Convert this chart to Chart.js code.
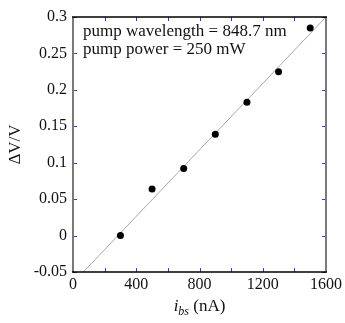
<!DOCTYPE html>
<html>
<head>
<meta charset="utf-8">
<script src="https://cdn.jsdelivr.net/npm/chart.js@4/dist/chart.umd.min.js"></script>
<style>
  html, body { margin: 0; padding: 0; background: #fff; }
  #wrap { width: 345px; height: 323px; }
</style>
</head>
<body>
<div id="wrap"><canvas id="chart"></canvas></div>
<script>
// measured points
const biasCurrent = [300, 500, 700, 900, 1100, 1300, 1500];   // nA
const deltaVoverV = [0.0, 0.064, 0.092, 0.139, 0.183, 0.225, 0.285];

// straight fit line at its two ends
const fitX = [65, 1600];
const fitY = [-0.05, 0.3];

const xTicks = [0, 400, 800, 1200, 1600];
const xMinorTicks = [200, 600, 1000, 1400];
const yTicks = [-0.05, 0, 0.05, 0.1, 0.15, 0.2, 0.25, 0.3];
const yTickLabels = ['-0.05', '0', '0.05', '0.1', '0.15', '0.2', '0.25', '0.3'];

const noteLines = ['pump wavelength = 848.7 nm', 'pump power = 250 mW'];

const SERIF = '"Liberation Serif", "DejaVu Serif", serif';
const TICK_BLUE = '#3a3acc';

// frame, inward ticks and the texts the library can't lay out itself
const framePlugin = {
  id: 'frame',
  afterDraw(chart) {
    const { ctx, chartArea: a, scales } = chart;
    const xs = scales.x, ys = scales.y;
    ctx.save();

    // ticks (inward, on all four sides)
    ctx.strokeStyle = TICK_BLUE;
    ctx.lineWidth = 1;
    ctx.beginPath();
    xTicks.concat(xMinorTicks).forEach(v => {
      const px = Math.round(xs.getPixelForValue(v)) + 0.5;
      ctx.moveTo(px, a.bottom); ctx.lineTo(px, a.bottom - 4);
      ctx.moveTo(px, a.top); ctx.lineTo(px, a.top + 4);
    });
    yTicks.forEach(v => {
      const py = Math.round(ys.getPixelForValue(v)) + 0.5;
      ctx.moveTo(a.left, py); ctx.lineTo(a.left + 4, py);
      ctx.moveTo(a.right, py); ctx.lineTo(a.right - 4, py);
    });
    ctx.stroke();

    // box: grey sides, black top/bottom
    ctx.lineWidth = 2;
    ctx.strokeStyle = '#7a7a7a';
    ctx.beginPath();
    ctx.moveTo(a.left, a.top); ctx.lineTo(a.left, a.bottom);
    ctx.moveTo(a.right, a.top); ctx.lineTo(a.right, a.bottom);
    ctx.stroke();
    ctx.lineWidth = 1.5;
    ctx.strokeStyle = '#000';
    ctx.beginPath();
    ctx.moveTo(a.left - 1, a.top); ctx.lineTo(a.right + 1, a.top);
    ctx.moveTo(a.left - 1, a.bottom); ctx.lineTo(a.right + 1, a.bottom);
    ctx.stroke();

    // note in the top left corner
    ctx.fillStyle = '#111';
    ctx.font = '17px ' + SERIF;
    ctx.textAlign = 'left';
    ctx.textBaseline = 'alphabetic';
    ctx.fillText(noteLines[0], a.left + 10, a.top + 19);
    ctx.fillText(noteLines[1], a.left + 10, a.top + 37);

    // y title
    ctx.save();
    ctx.translate(20, (a.top + a.bottom) / 2);
    ctx.rotate(-Math.PI / 2);
    ctx.textAlign = 'center';
    ctx.font = '17px ' + SERIF;
    ctx.fillText('\u0394V/V', 0, 0);
    ctx.restore();

    // x title: i_bs (nA)
    const base = 311;
    ctx.textAlign = 'left';
    ctx.font = 'italic 17px ' + SERIF;
    const wI = ctx.measureText('i').width;
    ctx.font = 'italic 12px ' + SERIF;
    const wSub = ctx.measureText('bs').width;
    ctx.font = '17px ' + SERIF;
    const wRest = ctx.measureText(' (nA)').width;
    let x0 = (a.left + a.right) / 2 - (wI + wSub + wRest) / 2;
    ctx.font = 'italic 17px ' + SERIF;
    ctx.fillText('i', x0, base);
    x0 += wI;
    ctx.font = 'italic 12px ' + SERIF;
    ctx.fillText('bs', x0, base + 4);
    x0 += wSub;
    ctx.font = '17px ' + SERIF;
    ctx.fillText(' (nA)', x0, base);

    ctx.restore();
  }
};

const ctx = document.getElementById('chart').getContext('2d');
new Chart(ctx, {
  type: 'scatter',
  data: {
    datasets: [
      {
        label: 'fit',
        data: fitX.map((x, i) => ({ x: x, y: fitY[i] })),
        showLine: true,
        borderColor: '#a8a8a8',
        borderWidth: 1,
        pointRadius: 0,
        order: 2,
      },
      {
        label: 'data',
        data: biasCurrent.map((x, i) => ({ x: x, y: deltaVoverV[i] })),
        backgroundColor: '#000',
        borderColor: '#000',
        pointRadius: 3.5,
        borderWidth: 0,
        order: 1,
      },
    ],
  },
  options: {
    responsive: true,
    maintainAspectRatio: false,
    animation: false,
    layout: { padding: { left: 0, right: 18, top: 17, bottom: 0 } },
    plugins: {
      legend: { display: false },
      tooltip: { enabled: false },
    },
    scales: {
      x: {
        type: 'linear',
        min: 0,
        max: 1600,
        afterBuildTicks: (scale) => { scale.ticks = xTicks.map(v => ({ value: v })); },
        afterFit: (scale) => { scale.height = 51; },
        grid: { display: false, drawTicks: false },
        border: { display: false },
        ticks: {
          padding: 3,
          color: '#111',
          font: { family: SERIF, size: 16 },
          maxRotation: 0,
          callback: (v) => String(v),
        },
      },
      y: {
        type: 'linear',
        min: -0.05,
        max: 0.3,
        afterBuildTicks: (scale) => { scale.ticks = yTicks.map(v => ({ value: v })); },
        afterFit: (scale) => { scale.width = 73; },
        grid: { display: false, drawTicks: false },
        border: { display: false },
        ticks: {
          padding: 6,
          color: '#111',
          font: { family: SERIF, size: 16 },
          callback: (v, i) => yTickLabels[i],
        },
      },
    },
  },
  plugins: [framePlugin],
});
</script>
</body>
</html>
